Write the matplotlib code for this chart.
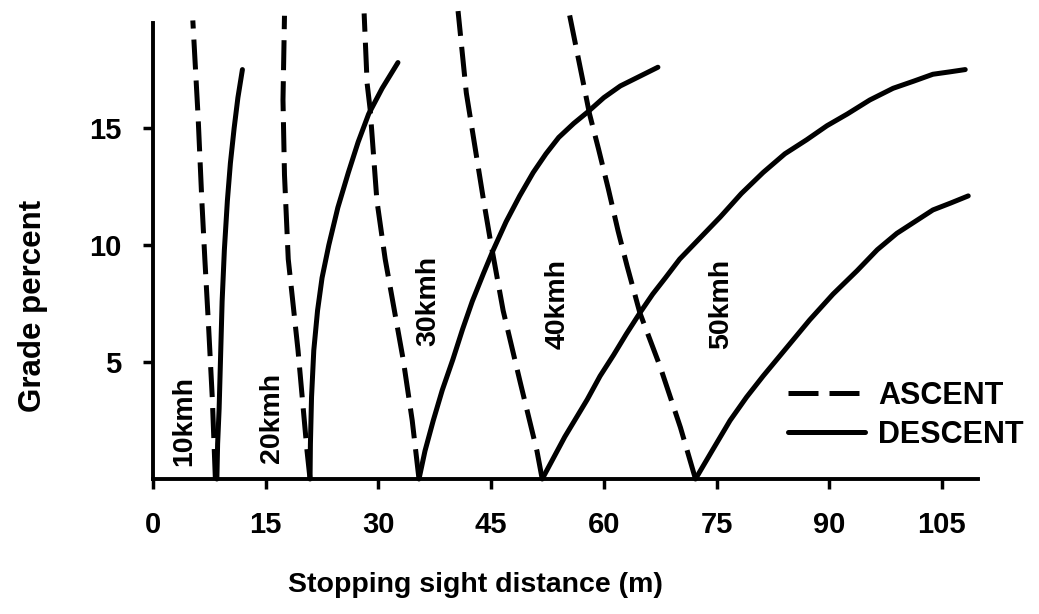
import matplotlib.pyplot as plt

plt.rcParams['font.family'] = ['Liberation Sans', 'DejaVu Sans']
plt.rcParams['font.weight'] = 'bold'

speed_labels = ["10kmh", "20kmh", "30kmh", "40kmh", "50kmh"]
label_x = [4.1, 15.9, 36.6, 53.8, 75.6]
label_y = [2.5, 2.6, 7.6, 7.5, 7.5]

# ascent curves (dashed): distance (m), grade (%)
asc10_x = [8.3, 7.9, 7.4, 6.9, 6.5, 6.0, 5.3]
asc10_y = [0, 3.4, 6.5, 9.4, 11.9, 15.5, 19.6]
asc20_x = [20.9, 20.5, 19.3, 18.0, 17.5, 17.3, 17.5]
asc20_y = [0, 1.2, 5.5, 9.4, 13.0, 16.2, 19.8]
asc30_x = [35.4, 34.5, 33.3, 30.9, 29.8, 28.9, 28.5, 28.1]
asc30_y = [0, 2.5, 5.1, 9.4, 11.9, 15.8, 16.9, 19.9]
asc40_x = [51.8, 51.1, 48.9, 46.6, 44.9, 44.0, 42.9, 41.7, 40.6]
asc40_y = [0, 1.2, 4.1, 7.2, 10.2, 11.9, 14.1, 16.5, 20.0]
asc50_x = [72.2, 70.2, 67.5, 64.8, 63.1, 61.9, 60.6, 59.3, 58.1, 57.1, 55.4]
asc50_y = [0, 2.2, 4.8, 7.1, 9.1, 10.6, 12.4, 14.1, 15.6, 17.2, 19.9]

# descent curves (solid)
desc10_x = [8.5, 8.6, 8.8, 9.0, 9.2, 9.5, 9.9, 10.3, 10.8, 11.3, 11.9]
desc10_y = [0, 1.5, 3.0, 5.3, 7.6, 9.8, 11.9, 13.5, 15.0, 16.3, 17.5]
desc20_x = [20.9, 20.95, 21.1, 21.4, 21.9, 22.5, 23.4, 24.6, 26.0, 27.3, 28.7, 30.5, 32.6]
desc20_y = [0, 1.5, 3.5, 5.5, 7.2, 8.6, 10.0, 11.6, 13.1, 14.4, 15.6, 16.7, 17.8]
desc30_x = [35.4, 36.2, 37.3, 38.5, 39.9, 41.2, 42.5, 44.0, 45.3, 47.0, 48.8, 50.6,
            52.3, 54.0, 56.0, 57.9, 60.0, 62.2, 64.7, 67.2]
desc30_y = [0, 1.2, 2.5, 3.8, 5.1, 6.4, 7.6, 8.8, 9.8, 11.0, 12.1, 13.1,
            13.9, 14.6, 15.2, 15.7, 16.3, 16.8, 17.2, 17.6]
desc40_x = [51.8, 53.3, 54.8, 56.3, 57.8, 59.5, 61.3, 63.0, 64.8, 66.5, 68.2, 70.1, 72.8,
            75.5, 78.3, 81.2, 84.1, 87.0, 89.7, 92.4, 95.4, 98.5, 101.2, 103.8, 106.0, 108.1]
desc40_y = [0, 0.9, 1.8, 2.6, 3.4, 4.4, 5.3, 6.2, 7.1, 7.9, 8.6, 9.4, 10.3,
            11.2, 12.2, 13.1, 13.9, 14.5, 15.1, 15.6, 16.2, 16.7, 17.0, 17.3, 17.4, 17.5]
desc50_x = [72.2, 74.4, 76.8, 79.0, 81.2, 84.3, 87.4, 90.5, 93.7, 96.4, 99.0, 101.4,
            103.8, 106.2, 108.5]
desc50_y = [0, 1.2, 2.5, 3.5, 4.4, 5.6, 6.8, 7.9, 8.9, 9.8, 10.5, 11.0,
            11.5, 11.8, 12.1]

x_ticks = [0, 15, 30, 45, 60, 75, 90, 105]
y_ticks = [5, 10, 15]

ascents = [(asc10_x, asc10_y), (asc20_x, asc20_y), (asc30_x, asc30_y),
           (asc40_x, asc40_y), (asc50_x, asc50_y)]
descents = [(desc10_x, desc10_y), (desc20_x, desc20_y), (desc30_x, desc30_y),
            (desc40_x, desc40_y), (desc50_x, desc50_y)]

fig = plt.figure(figsize=(10.39, 6.14), dpi=100)
ax = fig.add_axes([153/1039., 135/614., 825/1039., 474/614.])

lw = 3.6
for i, (xs, ys) in enumerate(ascents):
    ax.plot(xs, ys, color='black', lw=lw, dashes=(6, 2.2), clip_on=False,
            label='ASCENT' if i == 0 else None)
for i, (xs, ys) in enumerate(descents):
    ax.plot(xs, ys, color='black', lw=lw, solid_joinstyle='round',
            solid_capstyle='round', clip_on=False,
            label='DESCENT' if i == 0 else None)

for name, lx, ly in zip(speed_labels, label_x, label_y):
    ax.text(lx, ly, name, rotation=90, ha='center', va='center', fontsize=20.5)

ax.set_xlim(0, 109.8)
ax.set_ylim(0, 20.26)
ax.spines['top'].set_visible(False)
ax.spines['right'].set_visible(False)
ax.spines['left'].set_linewidth(2.8)
ax.spines['bottom'].set_linewidth(2.8)
ax.spines['left'].set_bounds(0, 19.5)
ax.set_xticks(x_ticks)
ax.set_yticks(y_ticks)
ax.tick_params(direction='out', length=7, width=2.5, labelsize=21)
ax.tick_params(axis='y', pad=16)
ax.tick_params(axis='x', pad=16)

fig.text(475/1039., 1 - 585/614., "Stopping sight distance (m)",
         ha='center', va='center', fontsize=20.5)
fig.text(33/1039., 1 - 306/614., "Grade percent", rotation=90,
         ha='center', va='center', fontsize=22.5)

ax.legend(loc='upper left', bbox_to_anchor=(0.77, 0.207), frameon=False,
          fontsize=22, handlelength=2.5, handletextpad=0.45, labelspacing=0.3,
          borderpad=0, borderaxespad=0)

plt.savefig("out.png", dpi=100)
